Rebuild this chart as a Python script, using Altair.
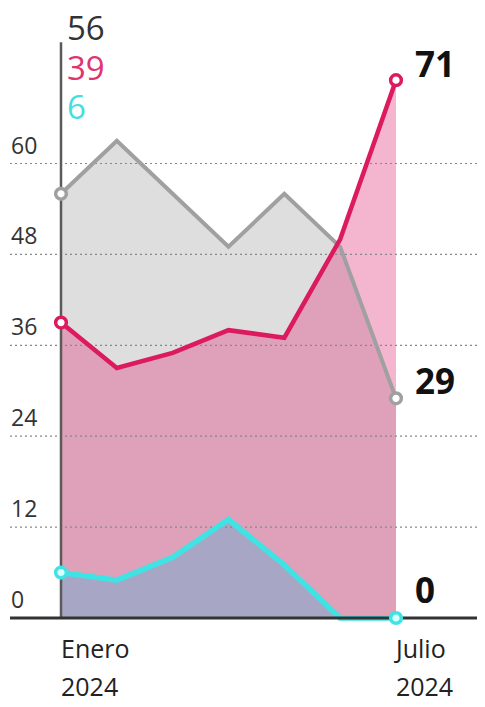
import altair as alt
import pandas as pd

# ---- data ----
meses = ["Enero", "Febrero", "Marzo", "Abril", "Mayo", "Junio", "Julio"]
indice = [0, 1, 2, 3, 4, 5, 6]
gris = [56, 63, 56, 49, 56, 49, 29]
rosa = [39, 33, 35, 38, 37, 50, 71]
cian = [6, 5, 8, 13, 7, 0, 0]
ticks_y = [0, 12, 24, 36, 48, 60]
ticks_lbl = ["0", "12", "24", "36", "48", "60"]
x_lbl_idx = [0, 6]
x_lbl_mes = ["Enero", "Julio"]
x_lbl_anio = ["2024", "2024"]

df = pd.DataFrame({"i": indice, "mes": meses, "gris": gris, "rosa": rosa, "cian": cian})
df_ticks = pd.DataFrame({"v": ticks_y, "lbl": ticks_lbl})
df_xl = pd.DataFrame({"i": x_lbl_idx, "mes": x_lbl_mes, "anio": x_lbl_anio})

FONT = "Open Sans"
C_GRIS = "#a0a0a0"
C_ROSA = "#dc1a5e"
C_CIAN = "#3fe3e3"

W, H = 467, 606
XMIN, XMAX = -0.9135, 7.451
YMAX = 80
xs = alt.Scale(domain=[XMIN, XMAX], nice=False, zero=False)
ys = alt.Scale(domain=[0, YMAX], nice=False)
X = alt.X("i:Q", scale=xs, axis=None)


def Y(f):
    return alt.Y(f, scale=ys, axis=None)


base = alt.Chart(df)

area_g = base.mark_area(color="#dedede").encode(x=X, y=Y("gris:Q"))
area_r = base.mark_area(color="#e0337a", opacity=0.36).encode(x=X, y=Y("rosa:Q"))
area_c = base.mark_area(color="#70aed0", opacity=0.5).encode(x=X, y=Y("cian:Q"))

grid = alt.Chart(df_ticks).transform_filter("datum.v > 0").mark_rule(
    color="#888888", strokeDash=[2, 3], strokeWidth=1.2
).encode(y=Y("v:Q"))

yaxis = base.transform_filter("datum.i == 0").mark_rule(color="#5a5a5a", strokeWidth=2.5).encode(
    x=X, y=alt.value(H - 76 * H / YMAX), y2=alt.value(H)
)

line_g = base.mark_line(color=C_GRIS, strokeWidth=4).encode(x=X, y=Y("gris:Q"))
line_r = base.mark_line(color=C_ROSA, strokeWidth=4.5).encode(x=X, y=Y("rosa:Q"))
line_c = base.mark_line(color=C_CIAN, strokeWidth=5.5).encode(x=X, y=Y("cian:Q"))

baseline = alt.Chart(df_ticks).transform_filter("datum.v == 0").mark_rule(
    color="#333333", strokeWidth=3
).encode(y=Y("v:Q"))

ends = base.transform_filter("datum.i == 0 || datum.i == 6")
pt_g = ends.mark_point(shape="circle", filled=True, fill="white", stroke=C_GRIS, strokeWidth=3.5, size=115, opacity=1).encode(x=X, y=Y("gris:Q"))
pt_r = ends.mark_point(shape="circle", filled=True, fill="white", stroke=C_ROSA, strokeWidth=3.5, size=115, opacity=1).encode(x=X, y=Y("rosa:Q"))
pt_c = ends.mark_point(shape="circle", filled=True, fill="#d8ffff", stroke=C_CIAN, strokeWidth=3.5, size=115, opacity=1).encode(x=X, y=Y("cian:Q"))

last = base.transform_filter("datum.i == 6")
end_style = dict(font=FONT, fontWeight="bold", fontSize=35, color="#111111", align="left", baseline="middle", dx=19)
end_g = last.mark_text(dy=-15, **end_style).encode(x=X, y=Y("gris:Q"), text="gris:Q")
end_r = last.mark_text(dy=-14, **end_style).encode(x=X, y=Y("rosa:Q"), text="rosa:Q")
end_c = last.mark_text(dy=-26, **end_style).encode(x=X, y=Y("cian:Q"), text="cian:Q")

first = base.transform_filter("datum.i == 0")
top_style = dict(font=FONT, fontSize=33, align="left", baseline="middle", dx=6)
top_g = first.mark_text(color="#333333", **top_style).encode(x=X, y=alt.value(18), text="gris:Q")
top_r = first.mark_text(color="#e0336f", **top_style).encode(x=X, y=alt.value(58), text="rosa:Q")
top_c = first.mark_text(color="#45dede", **top_style).encode(x=X, y=alt.value(97), text="cian:Q")

ylabels = alt.Chart(df_ticks).mark_text(
    font=FONT, fontSize=23, color="#333333", align="left", baseline="alphabetic", dy=-10
).encode(x=alt.value(1), y=Y("v:Q"), text="lbl:N")

xl = alt.Chart(df_xl)
xl_mes = xl.mark_text(font=FONT, fontSize=25, color="#222222", align="left", baseline="alphabetic").encode(
    x=alt.X("i:Q", scale=xs, axis=None), y=alt.value(646), text="mes:N"
)
xl_anio = xl.mark_text(font=FONT, fontSize=25, color="#222222", align="left", baseline="alphabetic").encode(
    x=alt.X("i:Q", scale=xs, axis=None), y=alt.value(684), text="anio:N"
)

chart = alt.layer(
    area_g, area_r, area_c, grid, yaxis, line_g, line_r, line_c, baseline,
    pt_g, pt_r, pt_c, end_g, end_r, end_c, top_g, top_r, top_c, ylabels, xl_mes, xl_anio
).properties(
    width=W, height=H,
    autosize=alt.AutoSizeParams(type="none"),
    padding={"left": 2, "top": 4, "right": 0, "bottom": 81},
).configure_view(stroke=None)

chart.save("out.html", embed_options={"renderer": "svg", "actions": False})
